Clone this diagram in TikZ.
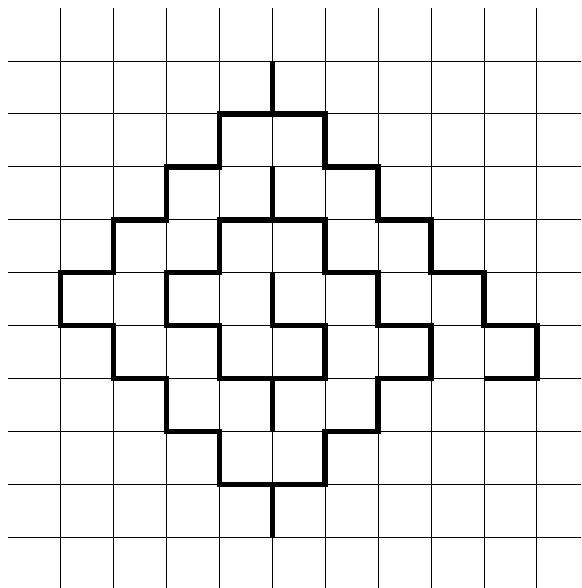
\documentclass[tikz,border=0pt]{standalone}
\usepackage{tikz}
\usetikzlibrary{calc}

\begin{document}
\begin{tikzpicture}[y=-1cm,
    gridline/.style={black,line width=0.5pt},
    route/.style={black,line width=3pt}]
  \useasboundingbox (-1.147,-1.153) rectangle (9.836,9.96);
  \clip (-1.147,-1.153) rectangle (9.836,9.96);
  % square grid
  \foreach \k in {0,...,9}{
    \draw[gridline] (\k,-1) -- (\k,10);
    \draw[gridline] (-1,\k) -- (10,\k);
  }
  % main staircase loop
  \draw[route] (4,0) -- (4,1) -- (3,1) -- (3,2) -- (2,2) -- (2,3) -- (1,3)
    -- (1,4) -- (0,4) -- (0,5) -- (1,5) -- (1,6) -- (2,6) -- (2,7) -- (3,7)
    -- (3,8) -- (5,8) -- (5,7) -- (6,7) -- (6,6) -- (7,6) -- (7,5) -- (6,5)
    -- (6,4) -- (5,4) -- (5,3) -- (3,3) -- (3,4) -- (2,4) -- (2,5) -- (3,5)
    -- (3,6) -- (5,6) -- (5,5) -- (4,5) -- (4,4);
  % right branch
  \draw[route] (4,1) -- (5,1) -- (5,2) -- (6,2) -- (6,3) -- (7,3) -- (7,4)
    -- (8,4) -- (8,5) -- (9,5) -- (9,6) -- (8,6);
  % short stems
  \foreach \r in {2,6,8}{
    \draw[route] (4,\r) -- (4,\r+1);
  }
\end{tikzpicture}
\end{document}
